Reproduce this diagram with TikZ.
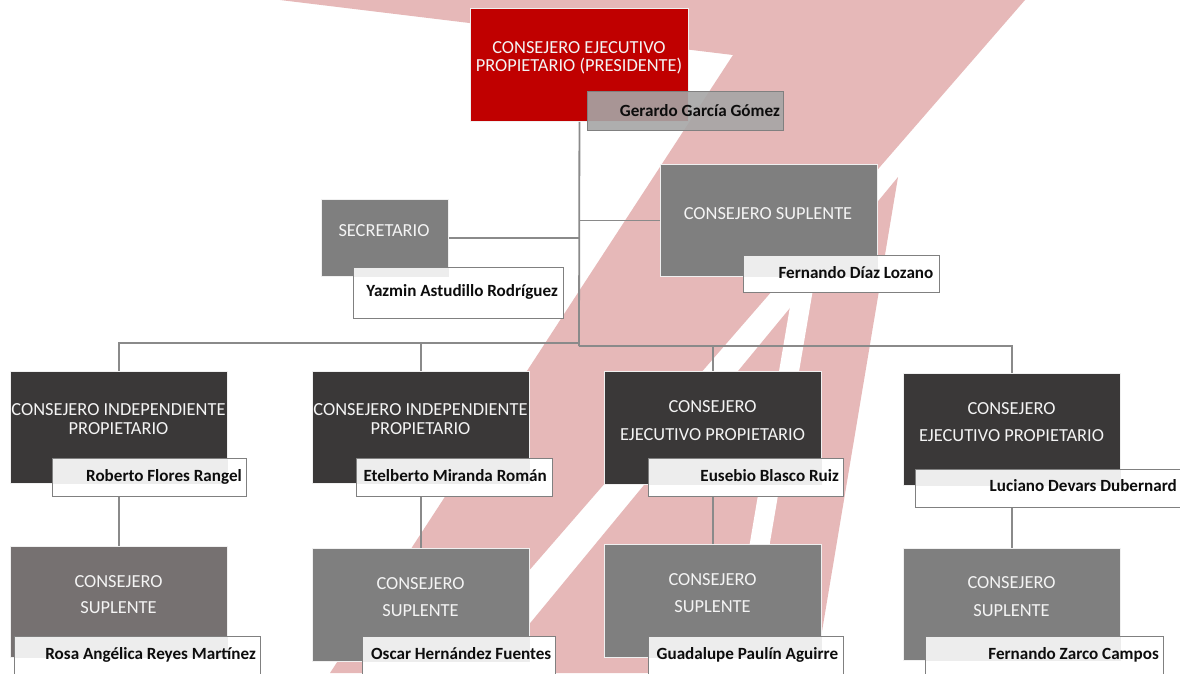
\documentclass[tikz,border=0pt]{standalone}
\usepackage{fontspec}
\setmainfont{Carlito}
\definecolor{pinkbg}{HTML}{E6B8B8}
\definecolor{redbox}{HTML}{C00000}
\definecolor{darkbox}{HTML}{3A3838}
\definecolor{greybox}{HTML}{7F7F7F}
\definecolor{warmgrey}{HTML}{767171}
\definecolor{linegrey}{HTML}{8A8A8A}
\definecolor{nameborder}{HTML}{808080}
\definecolor{ttlwhite}{HTML}{F4F4F4}
\begin{document}
\begin{tikzpicture}[x=1pt,y=-1pt,
  box/.style={draw=white!88!gray, line width=0.9pt, inner sep=0pt, anchor=north west},
  namebox/.style={draw=nameborder, line width=1.4pt, fill=white, inner sep=0pt, anchor=north west},
  ttl/.style={text=ttlwhite, font=\fontsize{18.4}{21}\selectfont, anchor=base, inner sep=0pt},
  nm/.style={text=black!95, font=\bfseries\fontsize{17.1}{20}\selectfont, anchor=base east, inner sep=0pt},
  conn/.style={draw=linegrey, line width=1.8pt},
  ovl/.style={path picture={\fill[gray!14] (#1.north west) rectangle (#1.south east);}},
]
\useasboundingbox (0,0) rectangle (1180,673);
\clip (0,0) rectangle (1180,673);
\fill[white] (0,0) rectangle (1180,673);
% background logo
\fill[pinkbg] (280,0) -- (1025,0) -- (440,673) -- (330,673) -- (733,55) -- cycle;
\fill[pinkbg] (898,177) -- (489,673) -- (815,673) -- cycle;
\fill[white] (791,300.6) -- (815.8,272.7) -- (747.8,673) -- (727.8,673) -- cycle;

% boxes
\node[box, fill=redbox, minimum width=218pt, minimum height=113pt] (P) at (470,8) {};
\node[box, fill=greybox, minimum width=127pt, minimum height=77pt] (SEC) at (321,199) {};
\node[box, fill=greybox, minimum width=217pt, minimum height=112pt] (CS) at (660,164) {};
\node[box, fill=darkbox, minimum width=217pt, minimum height=112pt] (B1) at (10,371) {};
\node[box, fill=darkbox, minimum width=217pt, minimum height=112pt] (B2) at (312,371) {};
\node[box, fill=darkbox, minimum width=217pt, minimum height=113pt] (B3) at (604,371) {};
\node[box, fill=darkbox, minimum width=217pt, minimum height=112pt] (B4) at (903,373) {};
\node[box, fill=warmgrey, minimum width=217pt, minimum height=111pt] (C1) at (10,546) {};
\node[box, fill=greybox, minimum width=217pt, minimum height=113pt] (C2) at (312,548) {};
\node[box, fill=greybox, minimum width=217pt, minimum height=113pt] (C3) at (604,544) {};
\node[box, fill=greybox, minimum width=217pt, minimum height=112pt] (C4) at (903,548) {};

% connectors
\coordinate (jl) at (579,343);
\coordinate (jr) at (579,346);
\draw[conn] (P.south) -- (jr);
\draw[conn] (P.south |- SEC.east) -- (SEC.east);
\draw[conn] (P.south |- CS.west) -- (CS.west);
\draw[conn] (jl) -| (B1.north);
\draw[conn] (jl) -| (B2.north);
\draw[conn] (jr) -| (B3.north);
\draw[conn] (jr) -| (B4.north);

% titles
\node[ttl] (Pt1) at (579,53.3) {CONSEJERO EJECUTIVO};
\node[ttl] (Pt2) at (579,71.7) {PROPIETARIO (PRESIDENTE)};
\node[ttl] (SECt) at (384,236) {SECRETARIO};
\node[ttl] (CSt) at (768,219) {CONSEJERO SUPLENTE};
\node[ttl] (B1t1) at (118.5,415) {CONSEJERO INDEPENDIENTE};
\node[ttl] (B1t2) at (118.5,434) {PROPIETARIO};
\node[ttl] (B2t1) at (420.5,415) {CONSEJERO INDEPENDIENTE};
\node[ttl] (B2t2) at (420.5,434) {PROPIETARIO};
\node[ttl] (B3t1) at (712.5,412.7) {CONSEJERO};
\node[ttl] (B3t2) at (712.5,440) {EJECUTIVO PROPIETARIO};
\node[ttl] (B4t1) at (1011.5,414) {CONSEJERO};
\node[ttl] (B4t2) at (1011.5,441.5) {EJECUTIVO PROPIETARIO};
\node[ttl] (C1t1) at (118.5,587) {CONSEJERO};
\node[ttl] (C1t2) at (118.5,613) {SUPLENTE};
\node[ttl] (C2t1) at (420.5,589) {CONSEJERO};
\node[ttl] (C2t2) at (420.5,616) {SUPLENTE};
\node[ttl] (C3t1) at (712.5,585.7) {CONSEJERO};
\node[ttl] (C3t2) at (712.5,612.7) {SUPLENTE};
\node[ttl] (C4t1) at (1011.5,588.5) {CONSEJERO};
\node[ttl] (C4t2) at (1011.5,616) {SUPLENTE};

% name boxes
\node[namebox, fill=gray!70, fill opacity=0.9, minimum width=196pt, minimum height=39pt] (G) at (587,91) {};
\node[namebox, ovl=SEC, minimum width=210pt, minimum height=51pt] (Y) at (352.5,267) {};
\node[namebox, ovl=CS, minimum width=196pt, minimum height=37pt] (F) at (742.5,255) {};
\node[namebox, ovl=B1, minimum width=194pt, minimum height=38pt] (N1) at (52,458) {};
\node[namebox, ovl=B2, minimum width=196pt, minimum height=38pt] (N2) at (356,458) {};
\node[namebox, ovl=B3, minimum width=195pt, minimum height=38pt] (N3) at (648,458) {};
\node[namebox, ovl=B4, minimum width=270pt, minimum height=38pt] (N4) at (915,469) {};
\node[namebox, ovl=C1, minimum width=246pt, minimum height=42pt] (M1) at (14,636) {};
\node[namebox, ovl=C2, minimum width=193pt, minimum height=42pt] (M2) at (362,636) {};
\node[namebox, ovl=C3, minimum width=195pt, minimum height=42pt] (M3) at (648,636) {};
\node[namebox, ovl=C4, minimum width=238pt, minimum height=42pt] (M4) at (925,636) {};

% lower connectors
\draw[conn] (B1.south |- N1.south) -- (C1.north);
\draw[conn] (B2.south |- N2.south) -- (C2.north);
\draw[conn] (B3.south |- N3.south) -- (C3.north);
\draw[conn] (B4.south |- N4.south) -- (C4.north);

% names
\node[nm] (Gt) at (780,116.7) {Gerardo García Gómez};
\node[nm] (Yt) at (558,296.7) {Yazmin Astudillo Rodríguez};
\node[nm] (Ft) at (933.5,278.3) {Fernando Díaz Lozano};
\node[nm] (N1t) at (242,481) {Roberto Flores Rangel};
\node[nm] (N2t) at (547,481.5) {Etelberto Miranda Román};
\node[nm] (N3t) at (839,481.7) {Eusebio Blasco Ruiz};
\node[nm] (N4t) at (1177,491.7) {Luciano Devars Dubernard};
\node[nm] (M1t) at (256,659) {Rosa Angélica Reyes Martínez};
\node[nm] (M2t) at (551.5,659.3) {Oscar Hernández Fuentes};
\node[nm] (M3t) at (838.3,659) {Guadalupe Paulín Aguirre};
\node[nm] (M4t) at (1159,659) {Fernando Zarco Campos};
\end{tikzpicture}
\end{document}
